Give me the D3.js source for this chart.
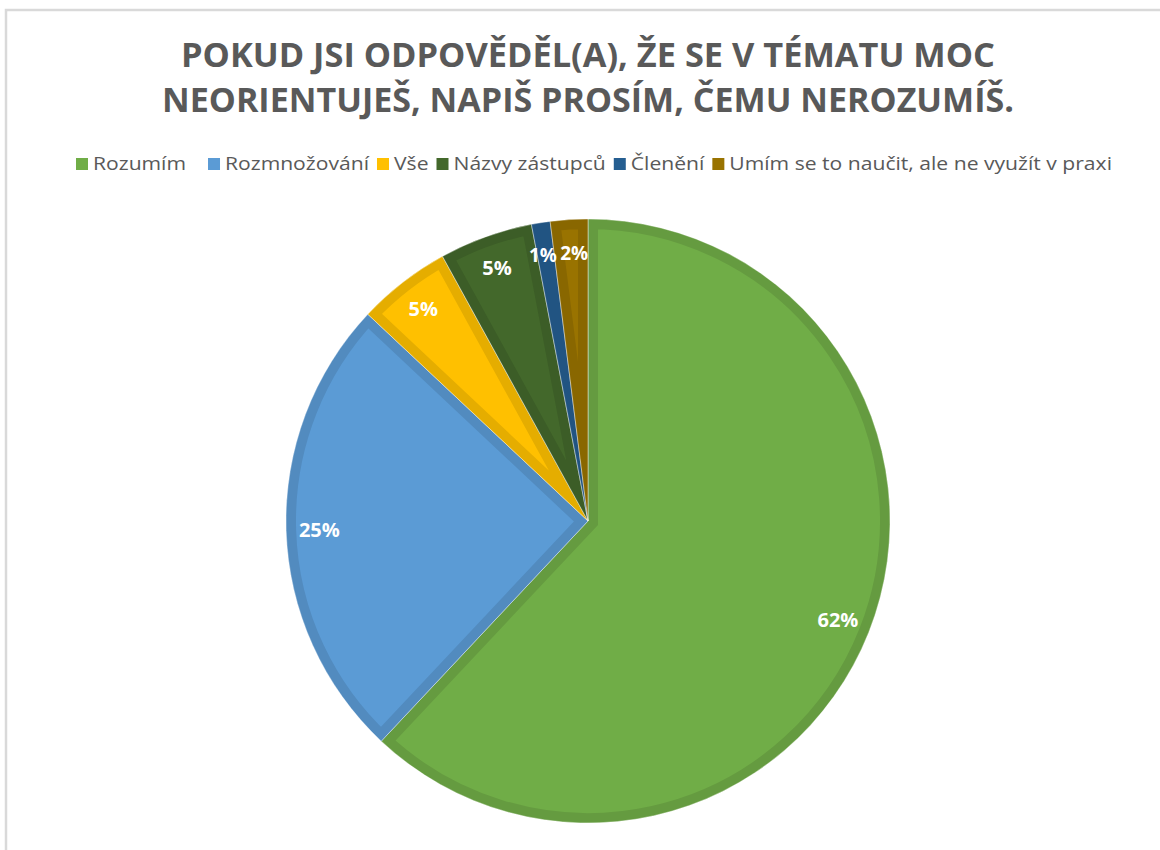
<!DOCTYPE html>
<html>
<head>
<meta charset="utf-8">
<script src="https://cdn.jsdelivr.net/npm/d3@7"></script>
<style>
  body { margin: 0; background: #fff; }
</style>
</head>
<body>
<div id="visual"></div>
<script>
// chart data
const titleLines = ["POKUD JSI ODPOVĚDĚL(A), ŽE SE V TÉMATU MOC", "NEORIENTUJEŠ, NAPIŠ PROSÍM, ČEMU NEROZUMÍŠ."];
const categories = ["Rozumím", "Rozmnožování", "Vše", "Názvy zástupců", "Členění", "Umím se to naučit, ale ne využít v praxi"];
const values = [62, 25, 5, 5, 1, 2];
const colors = ["#70AD47", "#5B9BD5", "#FFC000", "#43682B", "#255E91", "#997300"];

function pieChart(selector) {
    let width = 1160,
        height = 850,
        cx = 588,
        cy = 521,
        radius = 302;

    let svg = d3.select(selector)
        .append("svg")
        .attr("width", width)
        .attr("height", height);

    // chart frame (only top and left edges visible)
    svg.append("rect")
        .attr("x", 6).attr("y", 10)
        .attr("width", 1300).attr("height", 1000)
        .attr("fill", "none")
        .attr("stroke", "#d9d9d9")
        .attr("stroke-width", 2.5);

    // title
    svg.selectAll(".title")
        .data(titleLines)
        .enter().append("text")
        .attr("class", "title")
        .attr("x", cx)
        .attr("y", (d, i) => 67 + i * 45)
        .attr("text-anchor", "middle")
        .attr("textLength", (d, i) => i == 0 ? 814 : 852)
        .attr("lengthAdjust", "spacingAndGlyphs")
        .style("font-family", "'Open Sans', sans-serif")
        .style("font-weight", "700")
        .style("font-size", "34px")
        .style("fill", "#595959")
        .text(d => d);

    // legend
    let legend = svg.append("g").attr("class", "legend");
    let items = legend.selectAll("g")
        .data(categories)
        .enter().append("g");
    items.append("rect")
        .attr("width", 12).attr("height", 12)
        .attr("y", 158)
        .attr("fill", (d, i) => colors[i]);
    let labels = items.append("text")
        .attr("y", 170)
        .style("font-family", "'Open Sans', sans-serif")
        .style("font-size", "18px")
        .style("fill", "#595959")
        .text(d => d);

    // fit legend row into the same span as the reference
    let legendLeft = 76, legendRight = 1112, boxGap = 5, itemGap = 8;
    let widths = [];
    labels.each(function () { widths.push(this.getComputedTextLength()); });
    let fixed = categories.length * (12 + boxGap) + (categories.length - 1) * itemGap + 14;
    let total = d3.sum(widths);
    let k = (legendRight - legendLeft - fixed) / total;
    let x = legendLeft;
    items.each(function (d, i) {
        let g = d3.select(this);
        g.select("rect").attr("x", x);
        g.select("text")
            .attr("x", x + 12 + boxGap)
            .attr("textLength", widths[i] * k)
            .attr("lengthAdjust", "spacingAndGlyphs");
        // the first entry carries some trailing space in the reference
        x += 12 + boxGap + widths[i] * k + itemGap + (i == 0 ? 14 : 0);
    });

    // pie
    let pie = d3.pie()
        .sort(null)
        .value(d => d);

    let arc = d3.arc()
        .innerRadius(0)
        .outerRadius(radius);

    let labelArc = d3.arc()
        .innerRadius(radius * 0.89)
        .outerRadius(radius * 0.89);

    let arcs = pie(values);

    let g = svg.append("g")
        .attr("transform", "translate(" + cx + "," + cy + ")");

    let defs = svg.append("defs");
    defs.selectAll("clipPath")
        .data(arcs)
        .enter().append("clipPath")
        .attr("id", (d, i) => "slice-clip-" + i)
        .append("path")
        .attr("d", arc);

    let slices = g.selectAll(".arc")
        .data(arcs)
        .enter().append("g")
        .attr("class", "arc");

    // slice fill with inner border in a darker shade
    slices.append("path")
        .attr("d", arc)
        .attr("clip-path", (d, i) => "url(#slice-clip-" + i + ")")
        .style("fill", (d, i) => colors[i])
        .style("stroke", (d, i) => d3.rgb(colors[i]).darker(0.3))
        .style("stroke-width", 20)
        .style("stroke-linejoin", "miter");

    // thin light seam between slices
    slices.append("path")
        .attr("d", arc)
        .style("fill", "none")
        .style("stroke", "#ffffff")
        .style("stroke-opacity", 0.55)
        .style("stroke-width", 0.8);

    // percentage labels
    let sum = d3.sum(values);
    let small = arcs.filter(d => d.value / sum < 0.03).map(d => d.index);
    g.selectAll(".label")
        .data(arcs)
        .enter().append("text")
        .attr("class", "label")
        .attr("transform", d => "translate(" + labelArc.centroid(d) + ")")
        .attr("dy", "0.36em")
        .attr("dx", d => {
            // nudge the two thin slices' labels apart
            if (small.length < 2 || small.indexOf(d.index) < 0) return 0;
            return d.index == small[0] ? -3 : 3;
        })
        .attr("text-anchor", "middle")
        .style("font-family", "'Open Sans', sans-serif")
        .style("font-weight", "700")
        .style("font-size", d => d.value / sum < 0.03 ? "19px" : "20px")
        .style("fill", "#ffffff")
        .text(d => Math.round(d.value / sum * 100) + "%");
}

try {
    pieChart("#visual");
} catch (err) {
    console.log(err);
}
</script>
</body>
</html>
